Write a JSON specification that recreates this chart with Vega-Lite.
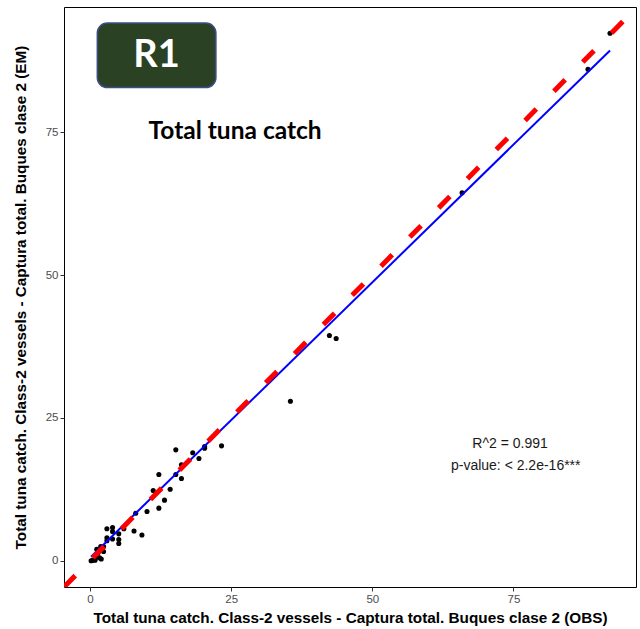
{
  "$schema": "https://vega.github.io/schema/vega-lite/v6.json",
  "width": 572,
  "height": 580,
  "autosize": {"type": "none"},
  "padding": {"left": 64, "top": 7, "right": 4, "bottom": 42},
  "background": "white",
  "config": {
    "view": {"stroke": "black", "strokeWidth": 1},
    "font": "Liberation Sans",
    "axis": {
      "grid": false,
      "domain": false,
      "ticks": true,
      "tickColor": "#333333",
      "tickSize": 4,
      "labelColor": "#4D4D4D",
      "labelFont": "Liberation Sans",
      "labelFontSize": 11.5,
      "labelPadding": 2,
      "titleFont": "Liberation Sans",
      "titleFontSize": 15.3,
      "titleFontWeight": "bold",
      "titleColor": "black"
    },
    "axisX": {"titlePadding": 6},
    "axisY": {"titlePadding": 17}
  },
  "datasets": {
    "catch": [
      {"x": 0.2, "y": 0.0}, {"x": 0.5, "y": 0.1}, {"x": 0.9, "y": 0.1}, {"x": 1.1, "y": 0.6},
      {"x": 1.7, "y": 0.5}, {"x": 2.0, "y": 0.3}, {"x": 1.4, "y": 1.3}, {"x": 1.2, "y": 2.0},
      {"x": 1.8, "y": 1.9}, {"x": 1.9, "y": 2.5}, {"x": 2.4, "y": 2.5}, {"x": 2.4, "y": 1.6},
      {"x": 3.0, "y": 3.5}, {"x": 3.0, "y": 4.0}, {"x": 3.0, "y": 5.6}, {"x": 4.0, "y": 3.8},
      {"x": 4.0, "y": 5.1}, {"x": 4.0, "y": 5.8}, {"x": 5.1, "y": 3.0}, {"x": 5.1, "y": 3.7},
      {"x": 5.1, "y": 4.7}, {"x": 6.0, "y": 5.6}, {"x": 7.8, "y": 5.2}, {"x": 8.1, "y": 8.3},
      {"x": 9.2, "y": 4.5}, {"x": 10.1, "y": 8.6}, {"x": 11.2, "y": 12.3}, {"x": 12.2, "y": 9.2},
      {"x": 12.2, "y": 15.1}, {"x": 13.2, "y": 10.6}, {"x": 14.2, "y": 12.5}, {"x": 15.2, "y": 15.1},
      {"x": 15.2, "y": 19.4}, {"x": 16.2, "y": 14.4}, {"x": 16.2, "y": 16.8}, {"x": 18.2, "y": 18.9},
      {"x": 19.3, "y": 17.9}, {"x": 20.3, "y": 19.7}, {"x": 20.3, "y": 20.0}, {"x": 23.3, "y": 20.1},
      {"x": 35.5, "y": 27.9}, {"x": 42.4, "y": 39.4}, {"x": 43.6, "y": 38.9}, {"x": 65.9, "y": 64.4},
      {"x": 88.2, "y": 86.0}, {"x": 92.1, "y": 92.3}
    ],
    "fit": [
      {"x": 0.2, "y": 0.7},
      {"x": 92.1, "y": 89.3}
    ],
    "identity": [
      {"x": -4.6, "y": -4.6},
      {"x": 96.9, "y": 96.9}
    ],
    "badge": [
      {"x": 1.3, "x2": 22.3, "y": 82.8, "y2": 94.1, "label": "R1", "lx": 11.8, "ly": 88.4}
    ],
    "heading": [
      {"x": 25.7, "y": 73.8, "label": "Total tuna catch"}
    ],
    "stats": [
      {"x": 74.4, "y": 19.7, "label": "R^2 = 0.991"},
      {"x": 75.4, "y": 15.8, "label": "p-value: < 2.2e-16***"}
    ]
  },
  "layer": [
    {
      "data": {"name": "catch"},
      "mark": {"type": "point", "filled": true, "color": "black", "size": 26, "opacity": 1},
      "encoding": {
        "x": {"field": "x", "type": "quantitative",
              "scale": {"domain": [-4.6, 96.7], "nice": false, "zero": false},
              "axis": {"values": [0, 25, 50, 75]},
              "title": "Total tuna catch. Class-2 vessels - Captura total. Buques clase 2 (OBS)"},
        "y": {"field": "y", "type": "quantitative",
              "scale": {"domain": [-4.6, 96.9], "nice": false, "zero": false},
              "axis": {"values": [0, 25, 50, 75]},
              "title": "Total tuna catch. Class-2 vessels - Captura total. Buques clase 2 (EM)"}
      }
    },
    {
      "data": {"name": "fit"},
      "mark": {"type": "line", "color": "#0000FF", "strokeWidth": 2},
      "encoding": {
        "x": {"field": "x", "type": "quantitative", "title": "Total tuna catch. Class-2 vessels - Captura total. Buques clase 2 (OBS)"},
        "y": {"field": "y", "type": "quantitative", "title": "Total tuna catch. Class-2 vessels - Captura total. Buques clase 2 (EM)"}
      }
    },
    {
      "data": {"name": "identity"},
      "mark": {"type": "line", "color": "#FF0000", "strokeWidth": 5, "strokeDash": [16, 25], "strokeCap": "butt", "clip": true},
      "encoding": {
        "x": {"field": "x", "type": "quantitative", "title": "Total tuna catch. Class-2 vessels - Captura total. Buques clase 2 (OBS)"},
        "y": {"field": "y", "type": "quantitative", "title": "Total tuna catch. Class-2 vessels - Captura total. Buques clase 2 (EM)"}
      }
    },
    {
      "data": {"name": "badge"},
      "mark": {"type": "rect", "fill": "#2A4223", "stroke": "#3D4C86", "strokeWidth": 1.5, "cornerRadius": 10},
      "encoding": {
        "x": {"field": "x", "type": "quantitative", "title": "Total tuna catch. Class-2 vessels - Captura total. Buques clase 2 (OBS)"},
        "x2": {"field": "x2"},
        "y": {"field": "y", "type": "quantitative", "title": "Total tuna catch. Class-2 vessels - Captura total. Buques clase 2 (EM)"},
        "y2": {"field": "y2"}
      }
    },
    {
      "data": {"name": "badge"},
      "mark": {"type": "text", "font": "Lato", "fontWeight": "bold", "fontSize": 38, "color": "white", "align": "center", "baseline": "middle"},
      "encoding": {
        "x": {"field": "lx", "type": "quantitative", "title": "Total tuna catch. Class-2 vessels - Captura total. Buques clase 2 (OBS)"},
        "y": {"field": "ly", "type": "quantitative", "title": "Total tuna catch. Class-2 vessels - Captura total. Buques clase 2 (EM)"},
        "text": {"field": "label"}
      }
    },
    {
      "data": {"name": "heading"},
      "mark": {"type": "text", "font": "Lato", "fontWeight": "bold", "fontSize": 24.5, "color": "black", "align": "center", "baseline": "alphabetic"},
      "encoding": {
        "x": {"field": "x", "type": "quantitative", "title": "Total tuna catch. Class-2 vessels - Captura total. Buques clase 2 (OBS)"},
        "y": {"field": "y", "type": "quantitative", "title": "Total tuna catch. Class-2 vessels - Captura total. Buques clase 2 (EM)"},
        "text": {"field": "label"}
      }
    },
    {
      "data": {"name": "stats"},
      "mark": {"type": "text", "font": "Liberation Sans", "fontSize": 14, "color": "#1A1A1A", "align": "center", "baseline": "alphabetic"},
      "encoding": {
        "x": {"field": "x", "type": "quantitative", "title": "Total tuna catch. Class-2 vessels - Captura total. Buques clase 2 (OBS)"},
        "y": {"field": "y", "type": "quantitative", "title": "Total tuna catch. Class-2 vessels - Captura total. Buques clase 2 (EM)"},
        "text": {"field": "label"}
      }
    }
  ]
}
